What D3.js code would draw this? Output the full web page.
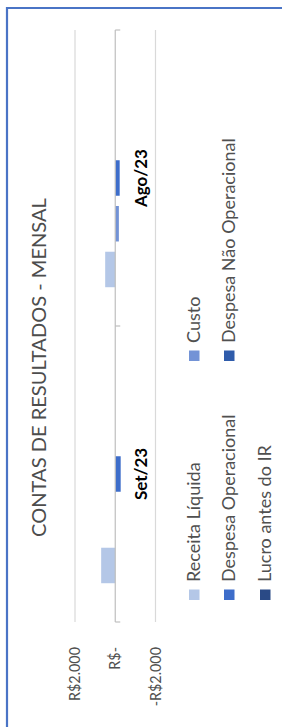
<!DOCTYPE html>
<html><head><meta charset="utf-8">
<script src="https://cdn.jsdelivr.net/npm/d3@7"></script>
<style>
html,body{margin:0;padding:0;background:#fff;}
svg{display:block;font-family:Lato,"Open Sans",sans-serif;}
</style>
</head><body>
<svg id="c" width="282" height="727"></svg>
<script>
// ---- data ----
const categories = ["Set/23", "Ago/23"];
const series = ["Receita Líquida", "Custo", "Despesa Operacional", "Despesa Não Operacional", "Lucro antes do IR"];
const receitaLiquida = [700, 500];
const custo = [0, -180];
const despesaOperacional = [-270, -220];
const despesaNaoOperacional = [0, 0];
const lucroAntesIR = [0, 0];
const tickValues = [2000, 0, -2000];
const tickLabels = ["R$2.000", "R$-", "-R$2.000"];
const chartTitle = "CONTAS DE RESULTADOS - MENSAL";
const colors = ["#b4c7e7", "#7393d6", "#3d6dca", "#2f5cab", "#2a4a86"];

const values = [receitaLiquida, custo, despesaOperacional, despesaNaoOperacional, lucroAntesIR];

const svg = d3.select("#c");
svg.append("rect").attr("width", 282).attr("height", 727).attr("fill", "#fff");

// chart border (blue frame, cropped)
svg.append("path").attr("d", "M7,727 V8 H282").attr("fill", "none")
  .attr("stroke", "#4a74c6").attr("stroke-width", 2.2);

// Rotated chart: original coords (ox along category axis, oy vertical)
const g = svg.append("g").attr("transform", "translate(0,727) rotate(-90)");

const x0 = d3.scaleBand().domain(categories).range([105, 697]).paddingInner(0.262).paddingOuter(0.131);
const x1 = d3.scaleBand().domain(series).range([0, x0.bandwidth()]).paddingInner(0.224);
const y = d3.scaleLinear().domain([-2000, 2000]).range([155.5, 75]);

function sizeFor(text, fs0, target, weight) {
  const probe = g.append("text").attr("font-size", fs0).attr("font-weight", weight || "normal").text(text);
  const fs = fs0 * target / probe.node().getComputedTextLength();
  probe.remove();
  return fs;
}

// gridlines
const [r0, r1] = x0.range();
g.selectAll("line.grid").data(tickValues.filter(v => v !== 0)).join("line")
  .attr("class", "grid")
  .attr("x1", r0).attr("x2", r1)
  .attr("y1", d => y(d)).attr("y2", d => y(d))
  .attr("stroke", "#d9d9d9").attr("stroke-width", 1.2);

// bars
categories.forEach((c, i) => {
  series.forEach((s, j) => {
    const v = values[j][i];
    g.append("rect")
      .attr("x", x0(c) + x1(s))
      .attr("width", x1.bandwidth())
      .attr("y", Math.min(y(v), y(0)))
      .attr("height", Math.abs(y(v) - y(0)))
      .attr("fill", colors[j]);
  });
});

// zero axis with tick marks at category boundaries
g.append("line").attr("x1", r0).attr("x2", r1).attr("y1", y(0)).attr("y2", y(0))
  .attr("stroke", "#bfbfbf").attr("stroke-width", 1.2);
const bounds = categories.map(c => x0(c) - x0.step() * x0.paddingOuter()).concat([r1]);
g.selectAll("line.tk").data(bounds).join("line")
  .attr("class", "tk")
  .attr("x1", d => d).attr("x2", d => d)
  .attr("y1", y(0)).attr("y2", y(0) + 5)
  .attr("stroke", "#bfbfbf").attr("stroke-width", 1.2);

// value axis labels
const tickFs = sizeFor(tickLabels[0], 15, 54);
tickValues.forEach((v, k) => {
  g.append("text")
    .attr("x", 80).attr("y", y(v)).attr("dy", "0.36em")
    .attr("text-anchor", "end")
    .attr("font-size", tickFs).attr("fill", "#505050")
    .text(tickLabels[k]);
});

// category labels
const catFs = sizeFor("Ago/23", 18, 58, "bold");
categories.forEach(c => {
  g.append("text")
    .attr("x", x0(c) + x0.bandwidth() / 2).attr("y", 147)
    .attr("text-anchor", "middle")
    .attr("font-size", catFs).attr("font-weight", "bold").attr("fill", "#000")
    .text(c);
});

// title
const titleFs = sizeFor(chartTitle, 20, 339);
g.append("text")
  .attr("x", 727 - 367.5).attr("y", 46)
  .attr("text-anchor", "middle")
  .attr("font-size", titleFs).attr("fill", "#4d4d4d")
  .text(chartTitle);

// legend
const legPos = [
  {ox: 127, oy: 194}, {ox: 366, oy: 194},
  {ox: 127, oy: 229}, {ox: 366, oy: 229},
  {ox: 127, oy: 265}
];
const legFs = sizeFor(series[3], 18, 205);
series.forEach((s, j) => {
  const p = legPos[j];
  g.append("rect").attr("x", p.ox).attr("y", p.oy - 5).attr("width", 10.5).attr("height", 10.5)
    .attr("fill", colors[j]);
  g.append("text").attr("x", p.ox + 18).attr("y", p.oy).attr("dy", "0.36em")
    .attr("font-size", legFs).attr("fill", "#505050").text(s);
});
</script>
</body></html>
